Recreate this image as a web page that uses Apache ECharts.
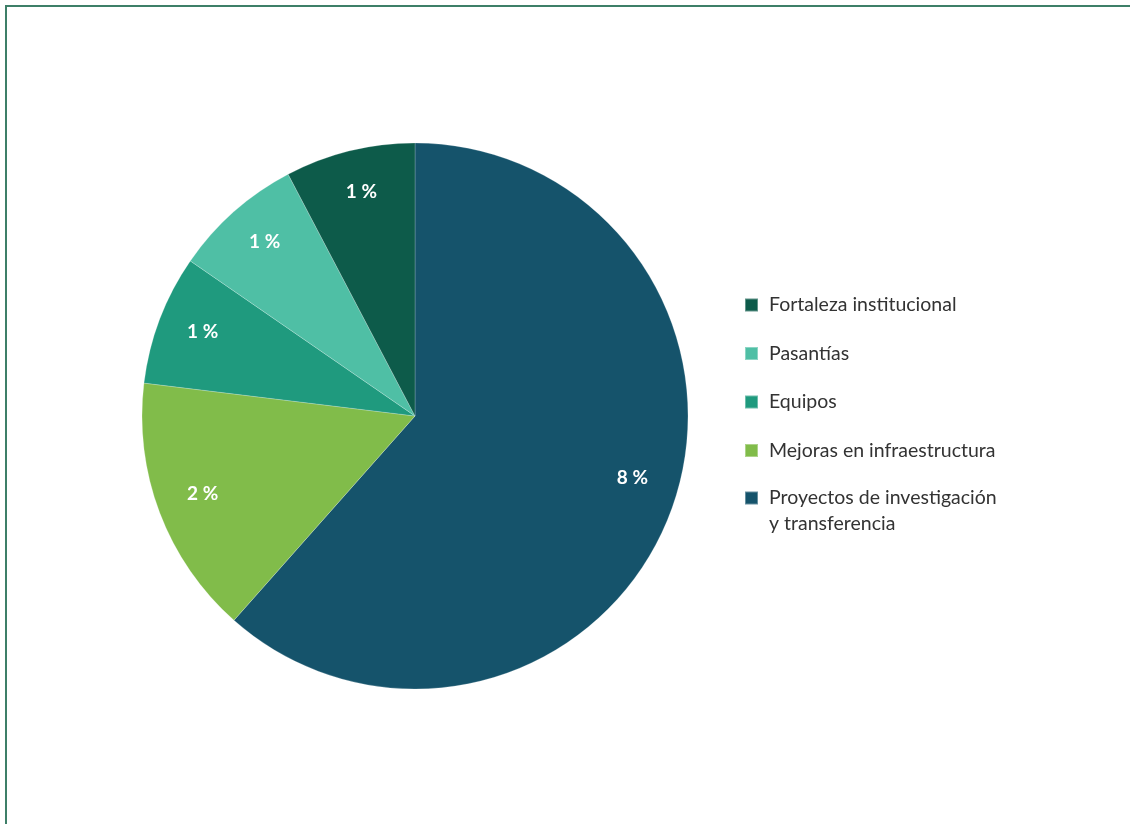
<!DOCTYPE html>
<html>
<head>
<meta charset="utf-8">
<style>
  html, body { margin: 0; padding: 0; background: #ffffff; }
  #chart { width: 1130px; height: 824px; }
</style>
<script src="https://cdn.jsdelivr.net/npm/echarts@6/dist/echarts.min.js"></script>
</head>
<body>
<div id="chart"></div>
<script>
// Budget categories, in clockwise order from twelve o'clock
const categories = [
  'Proyectos de investigación\ny transferencia',
  'Mejoras en infraestructura',
  'Equipos',
  'Pasantías',
  'Fortaleza institucional'
];
const values = [8, 2, 1, 1, 1];
const colors = ['#15536B', '#81BC4A', '#1F9A7E', '#4FBFA5', '#0D5B4A'];
// Legend lists the single-line categories top to bottom in this order
const legendOrder = [
  'Fortaleza institucional',
  'Pasantías',
  'Equipos',
  'Mejoras en infraestructura'
];
const legendLast = categories[0];

const pieData = categories.map((name, i) => ({
  name: name,
  value: values[i],
  itemStyle: { color: colors[i] }
}));

const center = [415, 416];
const R = 273;
const fontFamily = 'Lato, "Open Sans", sans-serif';
const LH = 26;
const FS = 19.5;

const richStyles = {
  g: { width: 6, lineHeight: LH, fontSize: FS, fontFamily: fontFamily },
  s: { lineHeight: LH, fontSize: FS, fontFamily: fontFamily },
  t: { lineHeight: LH, fontSize: FS, fontFamily: fontFamily, color: '#333333' }
};
const legendText = {
  fontFamily: fontFamily,
  fontSize: FS,
  color: '#333333',
  lineHeight: LH,
  rich: richStyles
};
// indent each legend line a little further from its swatch
const indentLines = name => name.split('\n').map(l => '{g| }{t|' + l + '}').join('\n');

const chart = echarts.init(document.getElementById('chart'), null, { renderer: 'canvas' });

chart.setOption({
  animation: false,
  backgroundColor: '#ffffff',
  legend: [
    {
      orient: 'vertical',
      left: 744,
      top: 292,
      padding: 0,
      itemWidth: 13,
      itemHeight: 13,
      itemGap: 22.5,
      icon: 'rect',
      selectedMode: false,
      textStyle: legendText,
      formatter: indentLines,
      data: legendOrder
    },
    {
      // two-line entry: a blank leading line keeps the first line level with the icon
      orient: 'vertical',
      left: 744,
      top: 459,
      padding: 0,
      itemWidth: 13,
      itemHeight: 13,
      icon: 'rect',
      selectedMode: false,
      textStyle: legendText,
      formatter: name => '{s| }\n' + indentLines(name),
      data: [legendLast]
    }
  ],
  graphic: [{
    type: 'polyline',
    shape: { points: [[6, 824], [6, 6], [1130, 6]] },
    style: { stroke: '#3E7F68', lineWidth: 2, fill: null },
    silent: true
  }],
  series: [
    {
      type: 'pie',
      center: center,
      radius: [0, R],
      startAngle: 90,
      clockwise: true,
      avoidLabelOverlap: false,
      label: { show: false },
      labelLine: { show: false },
      itemStyle: { borderColor: 'rgba(255,255,255,0.35)', borderWidth: 0.6 },
      emphasis: { disabled: true },
      data: pieData
    },
    {
      // value labels, placed at the outer part of each slice
      type: 'pie',
      center: center,
      radius: [R * 0.65, R],
      startAngle: 90,
      clockwise: true,
      silent: true,
      avoidLabelOverlap: false,
      legendHoverLink: false,
      itemStyle: { color: 'rgba(0,0,0,0)' },
      label: {
        show: true,
        position: 'inside',
        formatter: '{c} %',
        color: '#ffffff',
        fontFamily: fontFamily,
        fontWeight: 'bold',
        fontSize: 19
      },
      labelLayout: function (p) {
        return p.dataIndex === 0 ? { dx: 4, dy: -19 } : { dx: 1, dy: -3 };
      },
      labelLine: { show: false },
      emphasis: { disabled: true },
      data: categories.map((name, i) => ({ name: name + ' ', value: values[i] }))
    }
  ]
});
</script>
</body>
</html>
